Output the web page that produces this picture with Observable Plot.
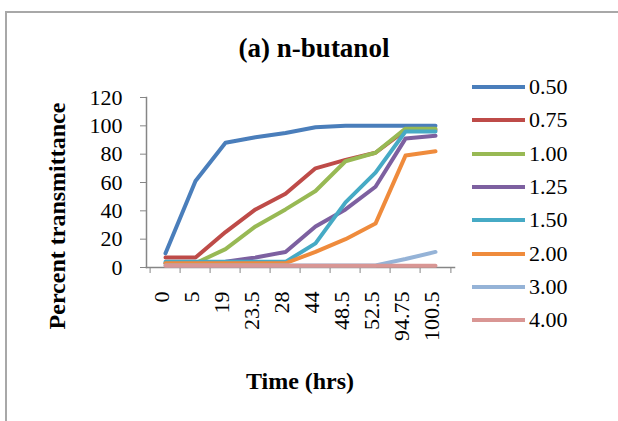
<!DOCTYPE html>
<html><head><meta charset="utf-8">
<script src="https://cdn.jsdelivr.net/npm/d3@7"></script>
<script src="https://cdn.jsdelivr.net/npm/@observablehq/plot@0.6"></script>
<style>
body{margin:0;background:#fff;}
#wrap{position:relative;width:618px;height:421px;overflow:hidden;font-family:"Liberation Serif","Times New Roman",serif;color:#000;}
#border{position:absolute;left:5px;top:11px;width:800px;height:600px;border-left:2px solid #a8a8a8;border-top:2px solid #a8a8a8;}
#chart{position:absolute;left:0;top:0;}
.title{position:absolute;font-weight:bold;white-space:nowrap;transform:translate(-50%,-50%);}
#legend{position:absolute;left:472px;top:0;}
.item{position:absolute;left:0;height:24px;width:120px;}
.swatch{position:absolute;left:0;top:10px;width:53px;height:4px;}
.lab{position:absolute;left:57px;top:0;font-size:22px;line-height:24px;}
</style></head>
<body>
<div id="wrap">
  <div id="border"></div>
  <div id="chart"></div>
  <div class="title" style="left:314px;top:48px;font-size:27px;">(a) n-butanol</div>
  <div class="title" style="left:300px;top:381px;font-size:24px;">Time (hrs)</div>
  <div class="title" style="left:57px;top:216px;font-size:24px;transform:translate(-50%,-50%) rotate(-90deg);">Percent transmittance</div>
  <div id="legend"></div>
</div>
<script>
const times = ["0","5","19","23.5","28","44","48.5","52.5","94.75","100.5"];
const series = ["0.50","0.75","1.00","1.25","1.50","2.00","3.00","4.00"];
const colors = ["#4a7ebb","#be4b48","#98b954","#7d60a0","#46aac5","#ef8b3c","#95b3d7","#d99694"];
const yTicks = [0,20,40,60,80,100,120];
const v050 = [10,61,88,92,95,99,100,100,100,100];
const v075 = [7,7,25,41,52,70,76,81,97,97];
const v100 = [3,3,13,29,41,54,75,81,98,98];
const v125 = [3,3,4,7,11,29,41,57,91,93];
const v150 = [4,4,4,4,4,17,46,67,96,96];
const v200 = [3,3,3,3,3,11,20,31,79,82];
const v300 = [1.5,1.5,1.5,1.5,1.5,1.5,1.5,1.5,6,11];
const v400 = [1.2,1.2,1.2,1.2,1.2,1.2,1.2,1.2,1.2,1.2];
const values = [v050,v075,v100,v125,v150,v200,v300,v400];

const data = [];
series.forEach((s,i)=>values[i].forEach((v,j)=>data.push({t:times[j], v, s})));

const W = 618, H = 421, ML = 146, MR = 164, MT = 97, MB = 154;
const half = (W - ML - MR) / times.length / 2;

const chart = Plot.plot({
  width: W, height: H,
  marginLeft: ML, marginRight: MR, marginTop: MT, marginBottom: MB,
  style: {fontFamily: "'Liberation Serif','Times New Roman',serif", fontSize: "22px", background: "transparent", color: "#000", overflow: "visible"},
  x: {type: "band", domain: times, padding: 0, label: null},
  y: {domain: [0,120], label: null},
  color: {domain: series, range: colors},
  marks: [
    Plot.axisY({ticks: yTicks, tickSize: 6, tickPadding: 18, stroke: "#868686", fill: "#000", label: null}),
    Plot.axisX({tickSize: 6, tickFormat: () => "", dx: -half, stroke: "#868686", label: null}),
    Plot.axisX({ticks: [times[times.length-1]], tickSize: 6, tickFormat: () => "", dx: half, stroke: "#868686", label: null}),
    Plot.axisX({tickSize: 0, tickPadding: 24, tickRotate: -90, dx: -4, fill: "#000", label: null}),
    Plot.frame({anchor: "left", stroke: "#868686", strokeWidth: 1.5}),
    Plot.frame({anchor: "bottom", stroke: "#868686", strokeWidth: 1.5}),
    Plot.line(data, {x: "t", y: "v", stroke: "s", z: "s", strokeWidth: 4, strokeLinejoin: "round", strokeLinecap: "round"})
  ]
});
document.getElementById("chart").appendChild(chart);

const legend = document.getElementById("legend");
const rowTops = 87, rowStep = 33.3;
series.forEach((s,i)=>{
  const it = document.createElement("div");
  it.className = "item";
  it.style.top = (rowTops + i*rowStep - 12) + "px";
  it.innerHTML = `<div class="swatch" style="background:${colors[i]}"></div><div class="lab">${s}</div>`;
  legend.appendChild(it);
});
</script>
</body></html>
